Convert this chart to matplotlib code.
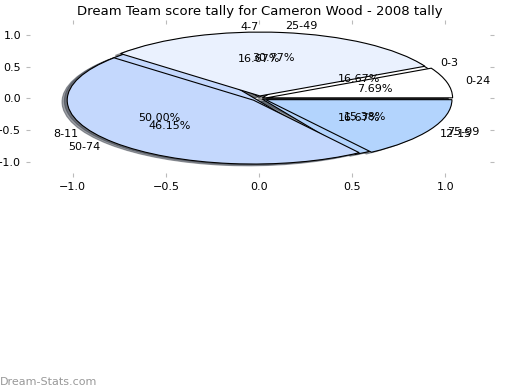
import matplotlib
matplotlib.use("Agg")
import matplotlib.pyplot as plt

# tally by round-score bucket
labels_a = ["0-3", "4-7", "8-11", "12-15"]
counts_a = [1, 1, 3, 1]
labels_b = ["0-24", "25-49", "50-74", "75-99"]
counts_b = [1, 4, 6, 2]
colors = ["#ffffff", "#eaf1fe", "#c4d8fd", "#b3d4fd"]
title = "Dream Team score tally for Cameron Wood - 2008 tally"


def main():
    fig = plt.figure(figsize=(5.2, 3.9), dpi=100)
    ax = fig.add_axes([0.054, 0.551, 0.892, 0.393])

    ax.pie(counts_a, labels=labels_a, colors=colors, autopct="%.2f%%",
           explode=[0.02] * 4, shadow=True, frame=True,
           wedgeprops={"edgecolor": "black", "linewidth": 0.8},
           textprops={"fontsize": 8})
    ax.pie(counts_b, labels=labels_b, colors=colors, autopct="%.2f%%",
           explode=[0.04] * 4, shadow=True, frame=True,
           wedgeprops={"edgecolor": "black", "linewidth": 0.8},
           textprops={"fontsize": 8})

    ax.set_aspect("auto")
    ax.set_xlim(-1.24, 1.25)
    ax.set_ylim(-1.2, 1.2)
    ax.set_xticks([-1.0, -0.5, 0.0, 0.5, 1.0])
    ax.set_yticks([-1.0, -0.5, 0.0, 0.5, 1.0])
    for s in ax.spines.values():
        s.set_visible(False)
    ax.tick_params(which="both", color="#bbbbbb", labelsize=8, length=3,
                   top=True, right=True, direction="inout")
    ax.set_title(title, fontsize=9.5, pad=5)

    fig.text(0.0, 0.012, "Dream-Stats.com", color="#999999", fontsize=8)
    fig.savefig("out.png", dpi=100)


if __name__ == "__main__":
    main()
